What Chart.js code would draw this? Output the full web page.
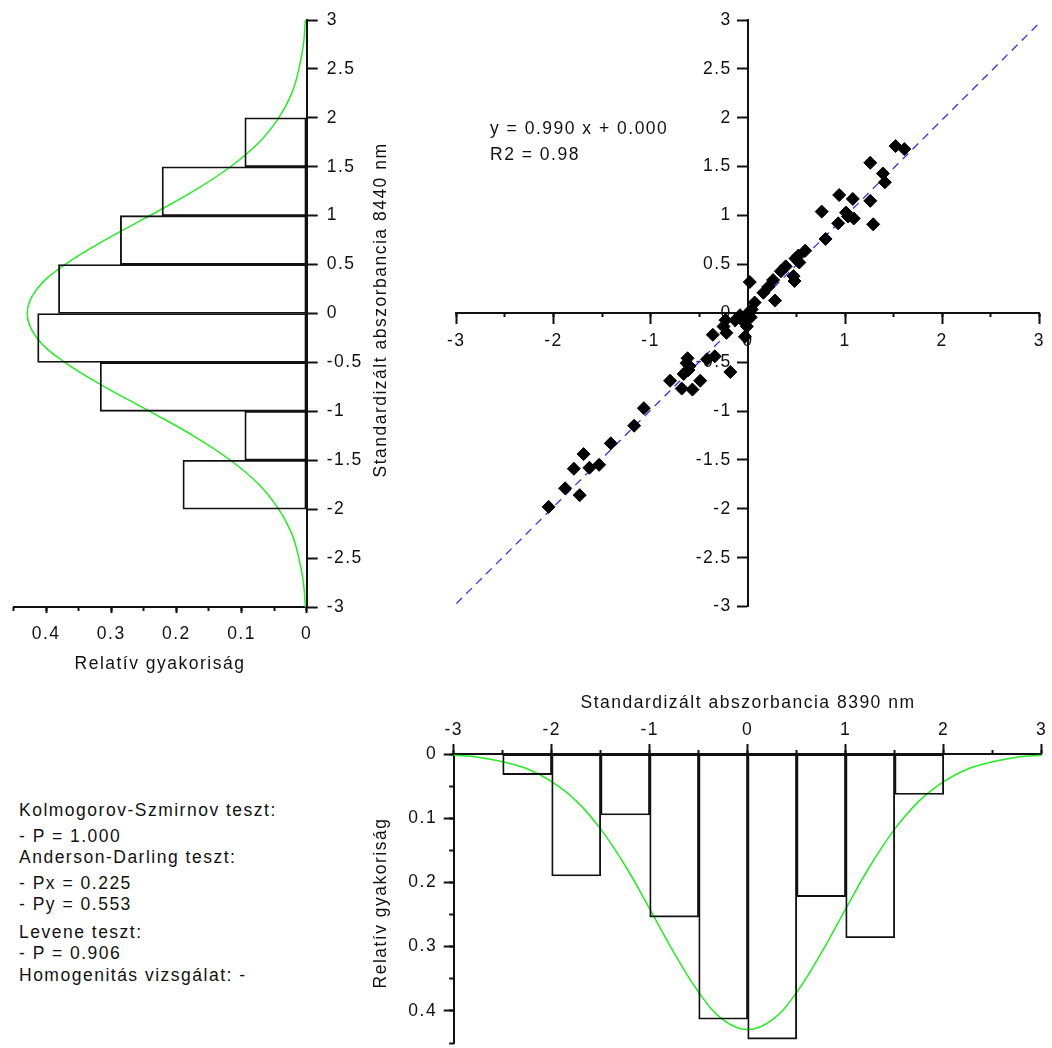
<!DOCTYPE html>
<html>
<head>
<meta charset="utf-8">
<script src="https://cdn.jsdelivr.net/npm/chart.js@4.4.1/dist/chart.umd.min.js"></script>
<style>
  html, body { margin: 0; padding: 0; background: #fff; }
  body {
    width: 1052px; height: 1048px; position: relative; overflow: hidden;
    font-family: "Liberation Sans", Arial, sans-serif; font-size: 17.5px;
    letter-spacing: 1.5px; color: #111;
  }
  canvas, .txt { position: absolute; }
  .txt { line-height: 20px; white-space: nowrap; }
  .c { transform: translate(-50%, -50%); }
  .rot { transform: translate(-50%, -50%) rotate(-90deg); }
</style>
</head>
<body>
<canvas id="histY" width="440" height="700" style="left:0;top:0"></canvas>
<canvas id="scatter" width="612" height="640" style="left:440px;top:0"></canvas>
<canvas id="histX" width="652" height="380" style="left:400px;top:680px"></canvas>

<div class="txt" style="left:490px;top:118px">y = 0.990 x + 0.000</div>
<div class="txt" style="left:490px;top:144px">R2 = 0.98</div>
<div class="txt rot" style="left:380px;top:310px">Standardizált abszorbancia 8440 nm</div>
<div class="txt c" style="left:160px;top:663px">Relatív gyakoriság</div>
<div class="txt c" style="left:748px;top:702px">Standardizált abszorbancia 8390 nm</div>
<div class="txt rot" style="left:380px;top:903px">Relatív gyakoriság</div>

<div class="txt" style="left:19px;top:800px">Kolmogorov-Szmirnov teszt:</div>
<div class="txt" style="left:19px;top:826px">- P = 1.000</div>
<div class="txt" style="left:19px;top:847px">Anderson-Darling teszt:</div>
<div class="txt" style="left:19px;top:873px">- Px = 0.225</div>
<div class="txt" style="left:19px;top:894px">- Py = 0.553</div>
<div class="txt" style="left:19px;top:922px">Levene teszt:</div>
<div class="txt" style="left:19px;top:943px">- P = 0.906</div>
<div class="txt" style="left:19px;top:965px">Homogenitás vizsgálat: -</div>

<script>
// standardized absorbance, 8390 nm (x) vs 8440 nm (y)
const scatterX = [1.52, 1.61, 1.26, 1.39, 1.41, 0.94, 1.08, 1.26, 0.76, 1.01, 1.09, 1.03, 0.93, 1.29, 0.80, 0.59, 0.52, 0.49, 0.53,
  0.39, 0.34, 0.47, 0.48, 0.26, 0.21, 0.02, 0.28, 0.16, 0.07, 0.04, 0.01, 0.03,
  -0.08, -0.13, -0.23, -0.25, -0.05, -0.01, -0.03, -0.36, -0.22, -0.34, -0.42, -0.18, -0.49,
  -0.62, -0.60, -0.61, -0.66, -0.57, -0.68, -0.80, -0.63,
  -1.07, -1.17, -1.41, -1.69, -1.53, -1.63, -1.79, -1.88, -1.73, -2.05];
const scatterY = [1.71, 1.68, 1.54, 1.43, 1.34, 1.21, 1.17, 1.15, 1.04, 1.03, 0.97, 0.99, 0.92, 0.91, 0.76, 0.64, 0.59, 0.56, 0.52,
  0.48, 0.43, 0.38, 0.33, 0.34, 0.27, 0.32, 0.13, 0.21, 0.11, 0.04, 0.01, -0.04,
  -0.02, -0.07, -0.07, -0.135, -0.08, -0.135, -0.24, -0.22, -0.20, -0.44, -0.47, -0.60, -0.69,
  -0.46, -0.54, -0.58, -0.62, -0.78, -0.77, -0.69, -0.51,
  -0.97, -1.15, -1.33, -1.44, -1.55, -1.58, -1.59, -1.79, -1.86, -1.98];

// regression line y = a x + b
const fitSlope = 0.990;
const fitIntercept = 0.000;
const fitRange = [-3, 3];

// histograms: bin centres (width 0.5) and relative frequencies
const binCentersY = [-1.75, -1.25, -0.75, -0.25, 0.25, 0.75, 1.25, 1.75];
const relFreqY = [0.190, 0.095, 0.317, 0.413, 0.381, 0.286, 0.222, 0.095];
const binCentersX = [-2.25, -1.75, -1.25, -0.75, -0.25, 0.25, 0.75, 1.25, 1.75];
const relFreqX = [0.032, 0.190, 0.095, 0.254, 0.413, 0.444, 0.222, 0.286, 0.063];

// fitted normal density
const curvePos = [-3, -2.75, -2.5, -2.25, -2, -1.75, -1.5, -1.25, -1, -0.75, -0.5, -0.25, 0,
  0.25, 0.5, 0.75, 1, 1.25, 1.5, 1.75, 2, 2.25, 2.5, 2.75, 3];
const curveDens = [0.002, 0.005, 0.012, 0.023, 0.043, 0.073, 0.117, 0.174, 0.241, 0.310, 0.371, 0.414, 0.429,
  0.414, 0.371, 0.310, 0.241, 0.174, 0.117, 0.073, 0.043, 0.023, 0.012, 0.005, 0.002];

// tick values
const stdTicks = [-3, -2.5, -2, -1.5, -1, -0.5, 0, 0.5, 1, 1.5, 2, 2.5, 3];
const stdMajorTicks = [-3, -2, -1, 0, 1, 2, 3];
const freqTicks = [0, 0.1, 0.2, 0.3, 0.4];
const freqMinorTicks = [0, 0.05, 0.1, 0.15, 0.2, 0.25, 0.3, 0.35, 0.4, 0.45];

const INK = '#111';
const GREEN = '#22ee22';
const FONT = { family: '"Liberation Sans", Arial, sans-serif', size: 17.5 };

Chart.defaults.animation = false;
Chart.defaults.plugins.legend.display = false;
Chart.defaults.plugins.tooltip.enabled = false;
Chart.defaults.events = [];

const spacing = {
  id: 'spacing',
  beforeDraw(chart) { chart.ctx.letterSpacing = '1.5px'; }
};

// a y axis placed at x = 0 draws its labels right on the axis line; push them left of the ticks
const yLabelGap = {
  id: 'yLabelGap',
  beforeDraw(chart) {
    chart.scales.y.getLabelItems().forEach(item => {
      if (!item.shifted) { item.options.translation[0] -= 16; item.shifted = true; }
    });
  }
};

function setTicks(values) {
  return axis => { axis.ticks = values.map(v => ({ value: v })); };
}

// one axis: labelled (tickLen, padding) or minor (no labels)
function axis(opts) {
  const a = {
    type: 'linear', min: opts.min, max: opts.max, reverse: !!opts.reverse,
    position: opts.position, offset: false, weight: opts.weight || 0,
    afterBuildTicks: setTicks(opts.ticks),
    ticks: {
      display: opts.labels !== false, autoSkip: false, maxRotation: 0,
      padding: opts.padding || 0, color: INK, font: FONT,
      callback: v => String(v)
    },
    grid: { drawOnChartArea: false, offset: false, tickLength: opts.tickLen, tickWidth: 2, tickColor: INK },
    border: { display: opts.labels !== false, color: INK, width: 2 }
  };
  if (opts.size !== undefined) {
    a.afterFit = s => { if (s.isHorizontal()) s.height = opts.size; else s.width = opts.size; };
  }
  return a;
}

// left: histogram of y (8440 nm), horizontal bars
new Chart(document.getElementById('histY'), {
  type: 'bar',
  data: {
    datasets: [{
      data: binCentersY.map((c, i) => ({ x: relFreqY[i], y: c })),
      backgroundColor: 'rgba(0,0,0,0)', borderColor: INK, borderWidth: 1.2,
      borderSkipped: false, barPercentage: 1, categoryPercentage: 1
    }, {
      type: 'line',
      data: curvePos.map((p, i) => ({ x: curveDens[i], y: p })),
      borderColor: GREEN, borderWidth: 1.5, pointRadius: 0, tension: 0.4, fill: false
    }]
  },
  options: {
    responsive: false, indexAxis: 'y',
    layout: { padding: { left: 13.5, top: 20, right: 73.3, bottom: 53 } },
    scales: {
      x: axis({ min: 0, max: 0.45, reverse: true, position: 'bottom', ticks: freqTicks, tickLen: 6, padding: 11, size: 40 }),
      xm: axis({ min: 0, max: 0.45, reverse: true, position: 'bottom', ticks: freqMinorTicks, tickLen: 4, labels: false, size: 0, weight: -1 }),
      y: axis({ min: -3, max: 3, position: 'right', ticks: stdTicks, tickLen: 11, padding: 9, size: 60 })
    }
  },
  plugins: [spacing]
});

// centre: scatter with regression line, axes crossing at the origin
new Chart(document.getElementById('scatter'), {
  type: 'scatter',
  data: {
    datasets: [{
      data: scatterX.map((x, i) => ({ x, y: scatterY[i] })),
      pointStyle: 'rectRot', pointRadius: 6.5, backgroundColor: '#000', borderColor: '#000', borderWidth: 1
    }, {
      type: 'line',
      data: fitRange.map(x => ({ x, y: fitSlope * x + fitIntercept })),
      borderColor: '#3333ff', borderWidth: 1.3, borderDash: [8, 6], pointRadius: 0, fill: false
    }]
  },
  options: {
    responsive: false,
    layout: { padding: { left: 13.7, top: 20, right: 10.3, bottom: 33.4 } },
    scales: {
      x: axis({ min: -3, max: 3, position: { y: 0 }, ticks: stdMajorTicks, tickLen: 10, padding: 7 }),
      xm: axis({ min: -3, max: 3, position: { y: 0 }, ticks: stdTicks, tickLen: 4, labels: false }),
      y: axis({ min: -3, max: 3, position: { x: 0 }, ticks: stdTicks, tickLen: 10, padding: 6 })
    }
  },
  plugins: [spacing, yLabelGap]
});

// bottom: histogram of x (8390 nm), bars hanging from the top axis
new Chart(document.getElementById('histX'), {
  type: 'bar',
  data: {
    datasets: [{
      data: binCentersX.map((c, i) => ({ x: c, y: relFreqX[i] })),
      backgroundColor: 'rgba(0,0,0,0)', borderColor: INK, borderWidth: 1.2,
      borderSkipped: false, barPercentage: 1, categoryPercentage: 1
    }, {
      type: 'line',
      data: curvePos.map((p, i) => ({ x: p, y: curveDens[i] })),
      borderColor: GREEN, borderWidth: 1.5, pointRadius: 0, tension: 0.4, fill: false
    }]
  },
  options: {
    responsive: false,
    layout: { padding: { left: 3.7, top: 34, right: 10.3, bottom: 10.8 } },
    scales: {
      x: axis({ min: -3, max: 3, position: 'top', ticks: stdMajorTicks, tickLen: 10, padding: 3, size: 40 }),
      xm: axis({ min: -3, max: 3, position: 'top', ticks: stdTicks, tickLen: 4, labels: false, size: 0, weight: -1 }),
      y: axis({ min: 0, max: 0.45, reverse: true, position: 'left', ticks: freqTicks, tickLen: 10, padding: 6.5, size: 50 }),
      ym: axis({ min: 0, max: 0.45, reverse: true, position: 'left', ticks: freqMinorTicks, tickLen: 4.5, labels: false, size: 0, weight: -1 })
    }
  },
  plugins: [spacing]
});
</script>
</body>
</html>
